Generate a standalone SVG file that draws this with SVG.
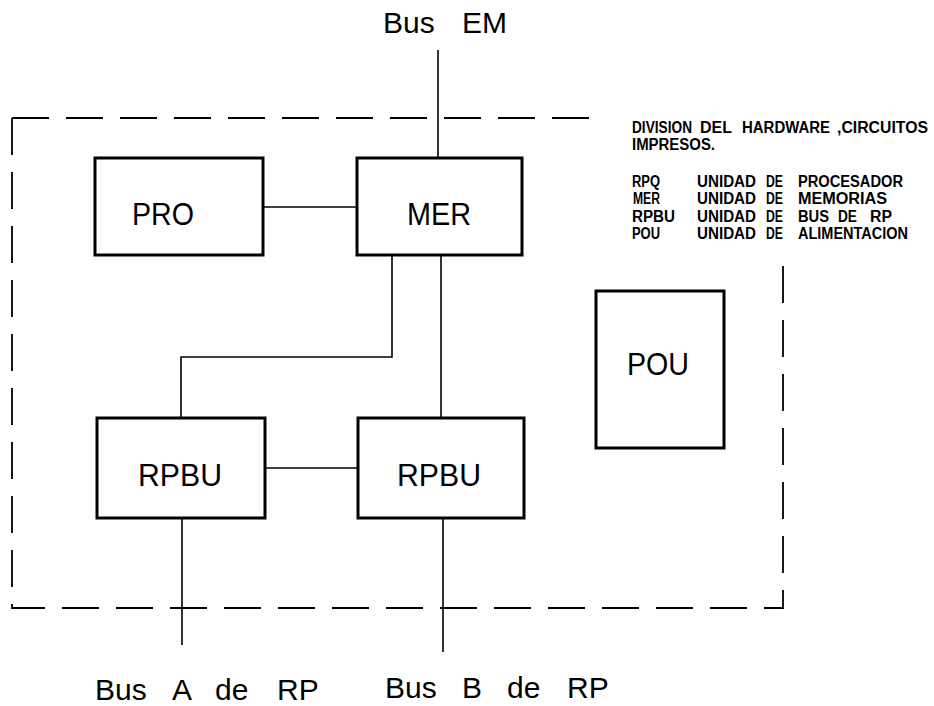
<svg xmlns="http://www.w3.org/2000/svg" width="934" height="706" viewBox="0 0 934 706">
<style>
.box{fill:none;stroke:#000;stroke-width:3}
.ln{fill:none;stroke:#000;stroke-width:1.6}
.dash{fill:none;stroke:#000;stroke-width:1.8;stroke-dasharray:37 17}
.lbl{font-family:"Liberation Sans",Arial,sans-serif;font-size:32px;fill:#000}
.bus{font-family:"Liberation Sans",Arial,sans-serif;font-size:30px;fill:#000}
.leg{font-family:"Liberation Sans",Arial,sans-serif;font-size:16px;font-weight:bold;fill:#000}
</style>
<rect width="934" height="706" fill="#fff"/>
<g id="boundary">
<path class="dash" d="M12,118 H603"/>
<path class="dash" d="M12,118 V608 H783 V262"/>
</g>
<g id="connectors">
<path class="ln" d="M438,50 V158"/>
<path class="ln" d="M263,207 H357"/>
<path class="ln" d="M392,255 V357 H181 V418"/>
<path class="ln" d="M441,255 V418"/>
<path class="ln" d="M265,468 H358"/>
<path class="ln" d="M182,518 V645"/>
<path class="ln" d="M443,518 V652"/>
</g>
<g id="PRO">
<rect class="box" x="95" y="158" width="168" height="97"/>
<text class="lbl" x="132" y="225" textLength="62" lengthAdjust="spacingAndGlyphs">PRO</text>
</g>
<g id="MER">
<rect class="box" x="357" y="158" width="165" height="97"/>
<text class="lbl" x="407" y="225" textLength="64" lengthAdjust="spacingAndGlyphs">MER</text>
</g>
<g id="RPBU-A">
<rect class="box" x="97" y="418" width="168" height="100"/>
<text class="lbl" x="138" y="486" textLength="84" lengthAdjust="spacingAndGlyphs">RPBU</text>
</g>
<g id="RPBU-B">
<rect class="box" x="358" y="418" width="166" height="100"/>
<text class="lbl" x="397" y="486" textLength="84" lengthAdjust="spacingAndGlyphs">RPBU</text>
</g>
<g id="POU">
<rect class="box" x="596" y="291" width="128" height="157"/>
<text class="lbl" x="627" y="375" textLength="62" lengthAdjust="spacingAndGlyphs">POU</text>
</g>
<g id="bus-labels">
<text class="bus" y="33"><tspan x="383">Bus</tspan><tspan x="462">EM</tspan></text>
<text class="bus" y="700"><tspan x="95">Bus</tspan><tspan x="172">A</tspan><tspan x="215">de</tspan><tspan x="277">RP</tspan></text>
<text class="bus" y="698"><tspan x="385">Bus</tspan><tspan x="462">B</tspan><tspan x="507">de</tspan><tspan x="567">RP</tspan></text>
</g>
<g id="legend">
<text class="leg" x="632" y="133" textLength="60" lengthAdjust="spacingAndGlyphs">DIVISION</text>
<text class="leg" x="700" y="133" textLength="32" lengthAdjust="spacingAndGlyphs">DEL</text>
<text class="leg" x="742" y="133" textLength="88" lengthAdjust="spacingAndGlyphs">HARDWARE</text>
<text class="leg" x="837" y="133" textLength="91" lengthAdjust="spacingAndGlyphs">,CIRCUITOS</text>
<text class="leg" x="632" y="150" textLength="83" lengthAdjust="spacingAndGlyphs">IMPRESOS.</text>
<text class="leg" x="632" y="187" textLength="28" lengthAdjust="spacingAndGlyphs">RPQ</text>
<text class="leg" x="697" y="187" textLength="59" lengthAdjust="spacingAndGlyphs">UNIDAD</text>
<text class="leg" x="766" y="187" textLength="17" lengthAdjust="spacingAndGlyphs">DE</text>
<text class="leg" x="798" y="187" textLength="105" lengthAdjust="spacingAndGlyphs">PROCESADOR</text>
<text class="leg" x="633" y="204" textLength="27" lengthAdjust="spacingAndGlyphs">MER</text>
<text class="leg" x="697" y="204" textLength="59" lengthAdjust="spacingAndGlyphs">UNIDAD</text>
<text class="leg" x="766" y="204" textLength="17" lengthAdjust="spacingAndGlyphs">DE</text>
<text class="leg" x="798" y="204" textLength="89" lengthAdjust="spacingAndGlyphs">MEMORIAS</text>
<text class="leg" x="632" y="222" textLength="43" lengthAdjust="spacingAndGlyphs">RPBU</text>
<text class="leg" x="697" y="222" textLength="59" lengthAdjust="spacingAndGlyphs">UNIDAD</text>
<text class="leg" x="766" y="222" textLength="17" lengthAdjust="spacingAndGlyphs">DE</text>
<text class="leg" x="798" y="222" textLength="31" lengthAdjust="spacingAndGlyphs">BUS</text>
<text class="leg" x="838" y="222" textLength="19" lengthAdjust="spacingAndGlyphs">DE</text>
<text class="leg" x="870" y="222" textLength="22" lengthAdjust="spacingAndGlyphs">RP</text>
<text class="leg" x="632" y="239" textLength="28" lengthAdjust="spacingAndGlyphs">POU</text>
<text class="leg" x="697" y="239" textLength="59" lengthAdjust="spacingAndGlyphs">UNIDAD</text>
<text class="leg" x="766" y="239" textLength="17" lengthAdjust="spacingAndGlyphs">DE</text>
<text class="leg" x="798" y="239" textLength="110" lengthAdjust="spacingAndGlyphs">ALIMENTACION</text>
</g>
</svg>
